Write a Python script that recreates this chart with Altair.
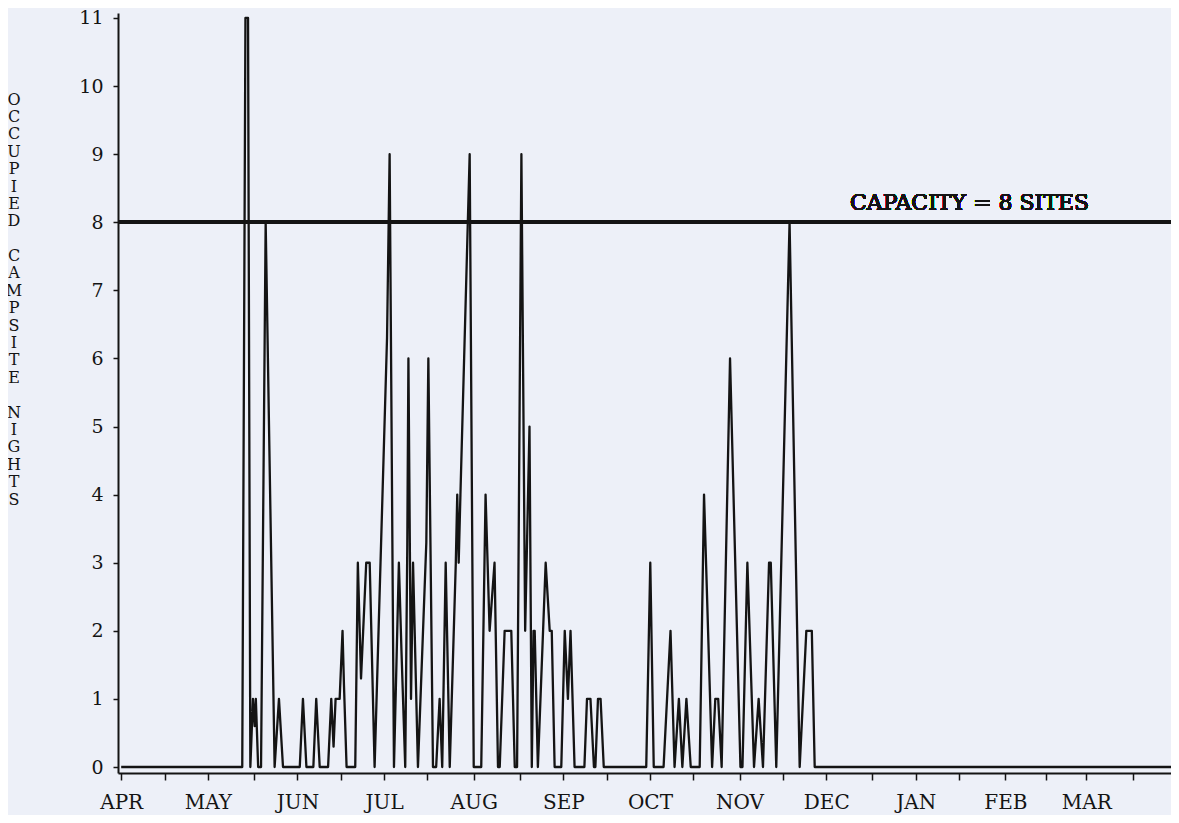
import altair as alt
import pandas as pd

# Daily occupancy trace, vertices (day 0 = 1 April)
DAYS = [0, 41.9, 43.0, 43.9, 44.7, 45.6, 46.2, 46.6, 47.4, 48.4, 50.0, 53.1,
        54.6, 56.0, 61.8, 62.9, 64.1, 66.5, 67.5, 68.7, 71.6, 72.7, 73.5, 74.2,
        75.6, 76.6, 77.1, 78.0, 81.0, 81.9, 83.0, 84.8, 86.0, 87.7, 92.0, 92.9,
        94.4, 96.1, 97.0, 98.3, 99.0, 99.4, 100.3, 101.0, 102.7, 105.6, 106.3,
        107.9, 109.0, 110.2, 111.1, 112.3, 113.7, 115.8, 116.3, 116.8, 117.4,
        120.6, 122.0, 124.6, 126.1, 127.5, 129.2, 130.4, 131.0, 132.7, 135.0,
        136.2, 137.0, 138.5, 139.8, 141.3, 142.1, 142.7, 143.1, 144.2, 146.9,
        148.3, 149.0, 150.0, 152.3, 153.5, 154.6, 155.5, 156.9, 160.3, 161.2,
        162.4, 163.6, 164.1, 165.0, 165.9, 167.0, 181.7, 183.1, 184.3, 187.7,
        190.1, 191.5, 193.0, 194.2, 195.6, 197.1, 200.2, 201.7, 204.5, 205.6,
        206.6, 207.8, 210.7, 214.3, 215.0, 216.7, 219.0, 220.6, 222.1, 224.2,
        224.8, 226.7, 231.3, 234.8, 237.1, 239.0, 240.0, 366.0]
OCCUPIED = [0, 0, 11, 11, 0, 1, 0.6, 1, 0, 0, 8, 0,
            1, 0, 0, 1, 0, 0, 1, 0, 0, 1, 0.3, 1,
            1, 2, 1.2, 0, 0, 3, 1.3, 3, 3, 0, 6.3, 9,
            0, 3, 1.7, 0, 3.2, 6, 1, 3, 0, 3.3, 6,
            0, 0, 1, 0, 3, 0, 3, 4, 3, 4,
            9, 0, 0, 4, 2, 3, 0, 0, 2, 2,
            0, 0, 9, 2, 5, 0, 2, 2, 0, 3,
            2, 2, 0, 0, 2, 1, 2, 0, 0, 1,
            1, 0, 0, 1, 1, 0, 0, 3, 0, 0,
            2, 0, 1, 0, 1, 0, 0, 4, 0, 1,
            1, 0, 6, 0, 0, 3, 0, 1, 0, 3,
            3, 0, 8, 0, 2, 2, 0, 0]

MONTHS = ["APR", "MAY", "JUN", "JUL", "AUG", "SEP",
          "OCT", "NOV", "DEC", "JAN", "FEB", "MAR"]
MONTH_START = [0, 30, 61, 91, 122, 153, 183, 214, 244, 275, 306, 334]
YEAR_DAYS = 365
CAPACITY = 8
CAPACITY_LABEL = "CAPACITY = 8 SITES"
CAPACITY_LABEL_DAY = 252.2
Y_TITLE_WORDS = ["OCCUPIED", "CAMPSITE", "NIGHTS"]
Y_TICKS = [i * 0.5 for i in range(23)]

X_DOMAIN = [-1.1, 363.3]
Y_DOMAIN = [-0.088, 11.073]

INK = "#141414"
FONT = "DejaVu Serif"
TITLE_LINE_H = 17.4

df = pd.DataFrame({"day": DAYS, "occ": OCCUPIED, "order": list(range(len(DAYS)))})

# quarter-month ticks
bounds = MONTH_START + [YEAR_DAYS]
x_ticks = []
for i in range(len(MONTH_START)):
    a, b = bounds[i], bounds[i + 1]
    for k in range(4):
        x_ticks.append(round(a + k * (b - a) / 4))
x_ticks = [t for t in x_ticks if t <= X_DOMAIN[1]]

starts_js = "[" + ",".join(str(s) for s in MONTH_START) + "]"
names_js = "[" + ",".join("'" + m + "'" for m in MONTHS) + "]"
x_label_expr = (f"indexof({starts_js}, datum.value) >= 0 ? "
                f"{names_js}[indexof({starts_js}, datum.value)] : ''")

x_enc = alt.X(
    "day:Q",
    scale=alt.Scale(domain=X_DOMAIN, nice=False, zero=False),
    axis=alt.Axis(values=x_ticks, labelExpr=x_label_expr, title=None, grid=False,
                  domainColor=INK, domainWidth=2, tickColor=INK, tickWidth=1.5,
                  tickSize=7, labelFont=FONT, labelFontSize=20, labelColor=INK,
                  labelPadding=12, labelFlush=False, labelOverlap=False),
)
y_enc = alt.Y(
    "occ:Q",
    scale=alt.Scale(domain=Y_DOMAIN, nice=False, zero=False),
    axis=alt.Axis(values=Y_TICKS,
                  labelExpr="datum.value % 1 == 0 ? format(datum.value, 'd') : ''",
                  title=None, grid=False, domainColor=INK, domainWidth=2,
                  tickColor=INK, tickWidth=1.5, tickSize=5, labelFont=FONT,
                  labelFontSize=19, labelColor=INK, labelPadding=10,
                  labelOverlap=False, labelFlush=False),
)

line = alt.Chart(df).mark_line(color=INK, strokeWidth=2.3, strokeJoin="round").encode(
    x=x_enc, y=y_enc, order="order:Q"
)
cap_rule = alt.Chart(df).mark_rule(color=INK, strokeWidth=3).encode(
    y=alt.datum(CAPACITY)
)
cap_text = alt.Chart(df).mark_text(
    align="left", baseline="middle", font=FONT, fontSize=22, color=INK, dy=-19
).encode(x=alt.datum(CAPACITY_LABEL_DAY), y=alt.datum(CAPACITY), text=alt.value(CAPACITY_LABEL))

# vertically stacked y-axis title, one word per block
title_layers = []
line_idx = 0
for w in Y_TITLE_WORDS:
    title_layers.append(
        alt.Chart(df).mark_text(
            align="center", baseline="middle", font=FONT, fontSize=16, color=INK,
            lineHeight=TITLE_LINE_H
        ).encode(
            x=alt.value(-104),
            y=alt.value(86.5 + line_idx * TITLE_LINE_H),
            text=alt.value(list(w)),
        ).transform_filter("datum.order == 0")
    )
    line_idx += len(w) + 1

chart = (
    alt.layer(line, cap_rule, cap_text, *title_layers)
    .properties(width=1053, height=760,
                autosize=alt.AutoSizeParams(type="none"),
                padding={"left": 110, "top": 5, "right": 0, "bottom": 42},
                background="#edf0f8")
    .configure_view(stroke=None)
)

chart.save("out.html", embed_options={"renderer": "svg", "actions": False})
